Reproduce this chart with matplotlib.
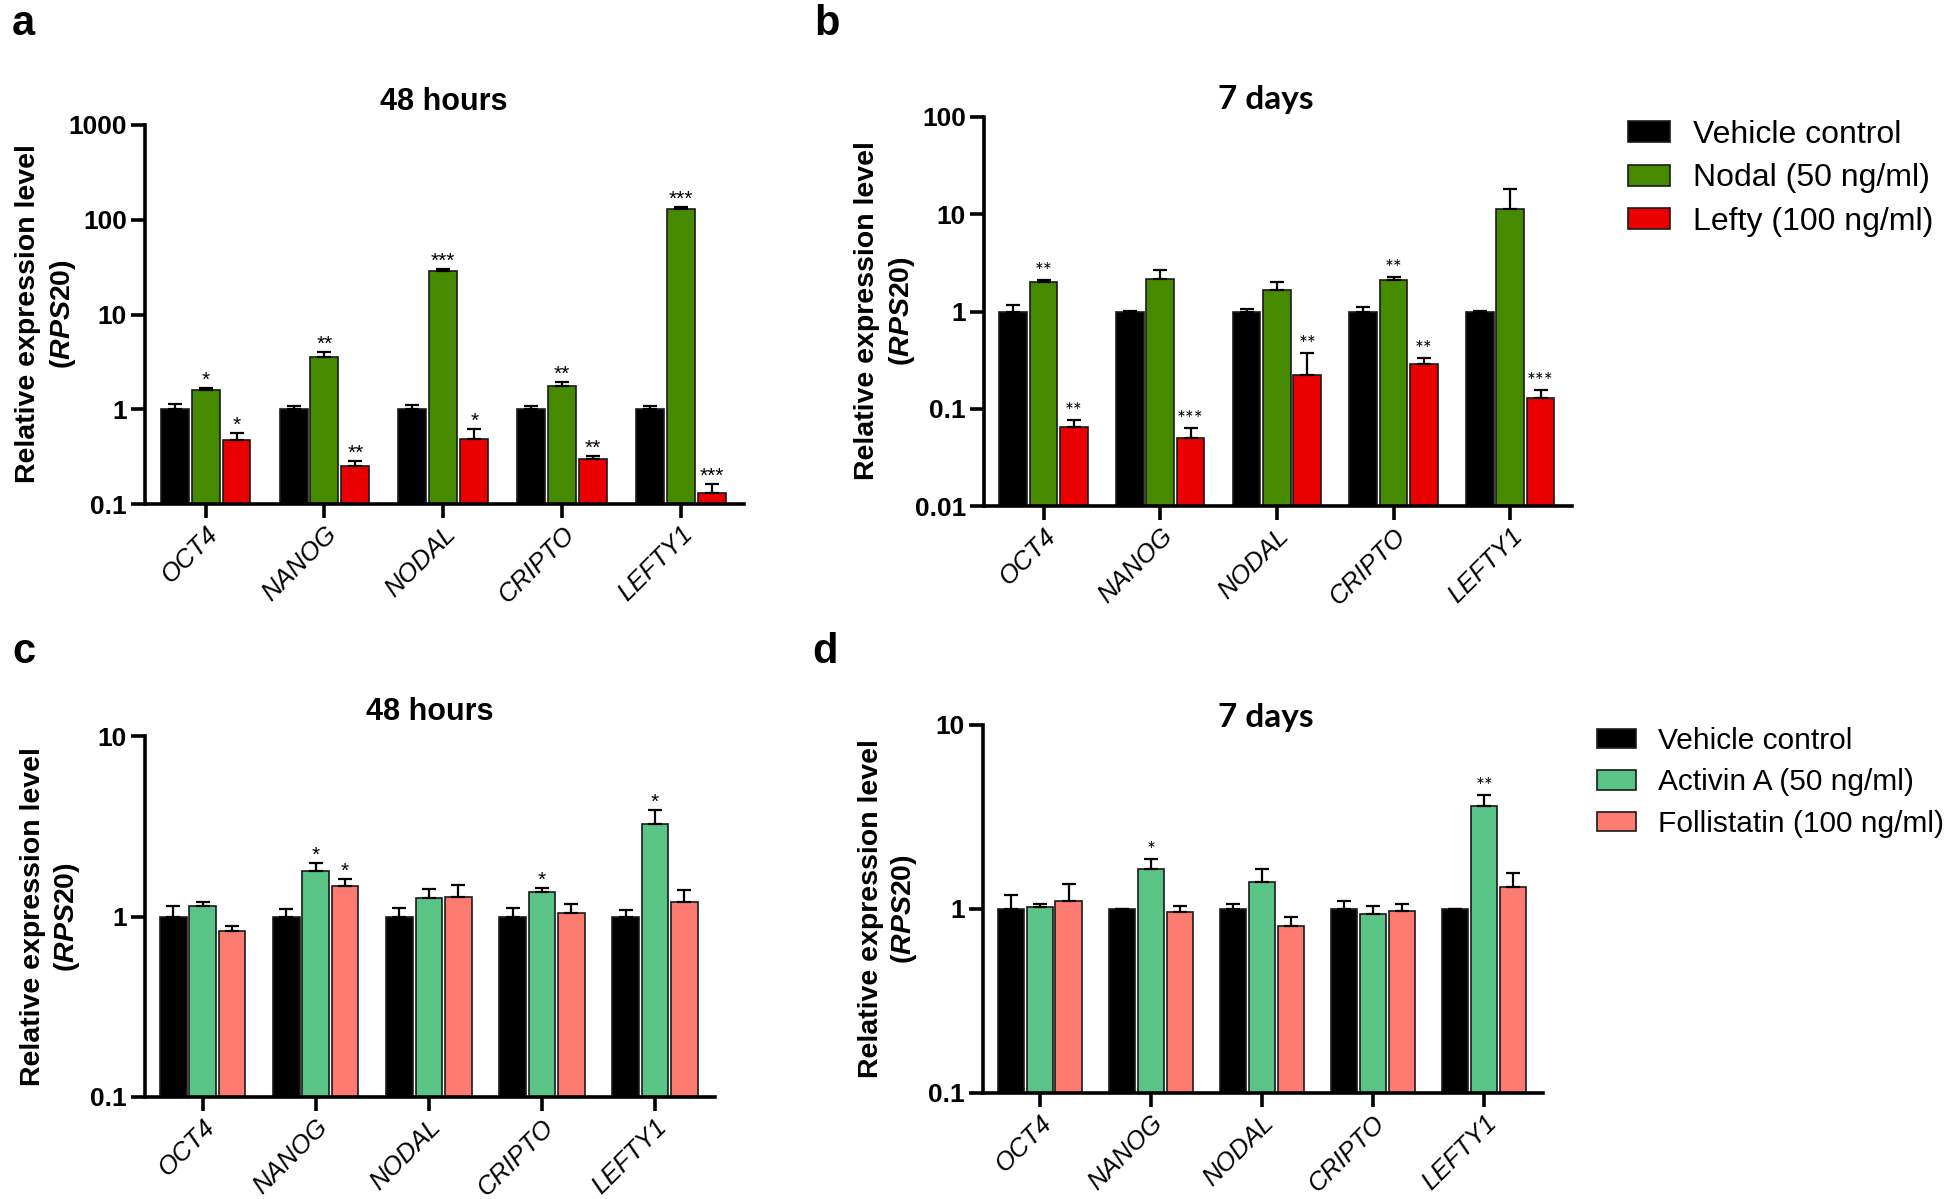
import numpy as np
import matplotlib
matplotlib.use("Agg")
import matplotlib.pyplot as plt
from matplotlib.patches import Patch

plt.rcParams['font.family'] = ['Liberation Sans', 'DejaVu Sans']
plt.rcParams['mathtext.fontset'] = 'custom'
plt.rcParams['mathtext.it'] = 'Liberation Sans:italic:bold'
plt.rcParams['mathtext.rm'] = 'Liberation Sans:bold'

W, H = 1946, 1199

genes = ['OCT4', 'NANOG', 'NODAL', 'CRIPTO', 'LEFTY1']

# a: 48 hours, Nodal / Lefty
a_vehicle = [1.0, 1.0, 1.0, 1.0, 1.0]
a_vehicle_err = [0.13, 0.08, 0.10, 0.09, 0.07]
a_nodal = [1.58, 3.6, 29.0, 1.77, 130.0]
a_nodal_err = [0.09, 0.45, 1.3, 0.17, 5.0]
a_lefty = [0.47, 0.25, 0.48, 0.30, 0.13]
a_lefty_err = [0.095, 0.034, 0.14, 0.018, 0.033]
a_stars_nodal = ['*', '**', '***', '**', '***']
a_stars_lefty = ['*', '**', '*', '**', '***']

# b: 7 days, Nodal / Lefty
b_vehicle = [1.0, 1.0, 1.0, 1.0, 1.0]
b_vehicle_err = [0.18, 0.01, 0.06, 0.10, 0.01]
b_nodal = [2.0, 2.18, 1.68, 2.1, 11.2]
b_nodal_err = [0.1, 0.5, 0.34, 0.17, 7.0]
b_lefty = [0.065, 0.050, 0.221, 0.29, 0.130]
b_lefty_err = [0.012, 0.013, 0.151, 0.04, 0.027]
b_stars_nodal = ['**', '', '', '**', '']
b_stars_lefty = ['**', '***', '**', '**', '***']

# c: 48 hours, Activin A / Follistatin
c_vehicle = [1.0, 1.0, 1.0, 1.0, 1.0]
c_vehicle_err = [0.14, 0.10, 0.11, 0.11, 0.09]
c_activin = [1.14, 1.78, 1.27, 1.37, 3.27]
c_activin_err = [0.06, 0.20, 0.15, 0.07, 0.61]
c_follistatin = [0.83, 1.48, 1.29, 1.04, 1.20]
c_follistatin_err = [0.06, 0.13, 0.20, 0.14, 0.20]
c_stars_activin = ['', '*', '', '*', '*']
c_stars_follistatin = ['', '*', '', '', '']

# d: 7 days, Activin A / Follistatin
d_vehicle = [1.0, 1.0, 1.0, 1.0, 1.0]
d_vehicle_err = [0.19, 0.005, 0.06, 0.11, 0.005]
d_activin = [1.025, 1.64, 1.41, 0.943, 3.61]
d_activin_err = [0.04, 0.22, 0.25, 0.097, 0.54]
d_follistatin = [1.10, 0.96, 0.81, 0.975, 1.31]
d_follistatin_err = [0.26, 0.08, 0.10, 0.095, 0.26]
d_stars_activin = ['', '*', '', '', '**']
d_stars_follistatin = ['', '', '', '', '']

green1, red1 = '#468a00', '#ea0000'
green2, red2 = '#5ac386', '#fe7b72'

fig = plt.figure(figsize=(W / 100, H / 100), dpi=100)


def make_axes(x0, x1, ytop, ybot):
    return fig.add_axes([x0 / W, 1 - ybot / H, (x1 - x0) / W, (ybot - ytop) / H])


def draw_panel(ax, series, errs, stars, colors, ylim, yticks, ylabels, star_font):
    x = np.arange(len(genes))
    offs = [-0.26, 0, 0.26]
    for k in range(3):
        vals = np.array(series[k])
        ax.bar(x + offs[k], vals, width=0.235, color=colors[k],
               edgecolor='#1a1a1a', linewidth=1.2, zorder=2)
        ax.errorbar(x + offs[k], vals, yerr=[np.zeros(5), errs[k]], fmt='none',
                    ecolor='black', elinewidth=1.6, capsize=5, capthick=1.6, zorder=3)
        if stars[k] is not None:
            for i, s in enumerate(stars[k]):
                if s:
                    ax.annotate(s, (x[i] + offs[k], vals[i] + errs[k][i]),
                                xytext=(0, 1.5), textcoords='offset points',
                                ha='center', va='baseline', fontsize=15,
                                family=star_font)
    ax.set_yscale('log')
    ax.set_ylim(*ylim)
    ax.set_xlim(-0.51, 4.53)
    ax.set_yticks(yticks)
    ax.set_yticklabels(ylabels, fontweight='bold', fontsize=19)
    ax.yaxis.set_minor_locator(matplotlib.ticker.NullLocator())
    ax.set_xticks(x)
    ax.set_xticklabels(genes, rotation=45, ha='right', rotation_mode='anchor',
                       fontstyle='italic', fontsize=18.5)
    for sp in ['top', 'right']:
        ax.spines[sp].set_visible(False)
    for sp in ['left', 'bottom']:
        ax.spines[sp].set_linewidth(2.6)
    ax.tick_params(axis='both', which='major', length=10, width=2.6, pad=3)
    ax.tick_params(axis='x', pad=3)


def ylabel(x1, x2, yc):
    fig.text(x1 / W, 1 - yc / H, 'Relative expression level', rotation=90,
             ha='center', va='center', fontsize=20.5, fontweight='bold')
    fig.text(x2 / W, 1 - yc / H, '($\\mathit{RPS20}$)', rotation=90,
             ha='center', va='center', fontsize=20.5, fontweight='bold')


ax_a = make_axes(145, 744, 125, 504)
draw_panel(ax_a, [a_vehicle, a_nodal, a_lefty], [a_vehicle_err, a_nodal_err, a_lefty_err],
           [None, a_stars_nodal, a_stars_lefty], ['black', green1, red1],
           (0.1, 1000), [0.1, 1, 10, 100, 1000], ['0.1', '1', '10', '100', '1000'],
           'Liberation Sans')
ax_b = make_axes(984, 1572, 117, 506)
draw_panel(ax_b, [b_vehicle, b_nodal, b_lefty], [b_vehicle_err, b_nodal_err, b_lefty_err],
           [None, b_stars_nodal, b_stars_lefty], ['black', green1, red1],
           (0.01, 100), [0.01, 0.1, 1, 10, 100], ['0.01', '0.1', '1', '10', '100'],
           'Lato')
ax_c = make_axes(145, 715, 736, 1097)
draw_panel(ax_c, [c_vehicle, c_activin, c_follistatin],
           [c_vehicle_err, c_activin_err, c_follistatin_err],
           [None, c_stars_activin, c_stars_follistatin], ['black', green2, red2],
           (0.1, 10), [0.1, 1, 10], ['0.1', '1', '10'], 'Liberation Sans')
ax_d = make_axes(983, 1543, 725, 1093)
draw_panel(ax_d, [d_vehicle, d_activin, d_follistatin],
           [d_vehicle_err, d_activin_err, d_follistatin_err],
           [None, d_stars_activin, d_stars_follistatin], ['black', green2, red2],
           (0.1, 10), [0.1, 1, 10], ['0.1', '1', '10'], 'Lato')

# titles
fig.text(444 / W, 1 - 102 / H, '48 hours', ha='center', va='center', fontsize=22, fontweight='bold')
fig.text(1266 / W, 1 - 100 / H, '7 days', ha='center', va='center', fontsize=24,
         fontweight='bold', family='Lato')
fig.text(430 / W, 1 - 712 / H, '48 hours', ha='center', va='center', fontsize=22, fontweight='bold')
fig.text(1266 / W, 1 - 718 / H, '7 days', ha='center', va='center', fontsize=24,
         fontweight='bold', family='Lato')

# y labels
ylabel(28, 63, 314)
ylabel(867, 902, 311)
ylabel(33, 67, 917)
ylabel(871, 904, 909)

# panel letters
for lx, ly, t in [(12, 35, 'a'), (814, 35, 'b'), (12, 663, 'c'), (812, 663, 'd')]:
    fig.text(lx / W, 1 - ly / H, t, ha='left', va='baseline', fontsize=30, fontweight='bold')

# legends
h1 = [Patch(facecolor=c, edgecolor='#1a1a1a', linewidth=1.2) for c in ['black', green1, red1]]
fig.legend(h1, ['Vehicle control', 'Nodal (50 ng/ml)', 'Lefty (100 ng/ml)'],
           loc='upper left', bbox_to_anchor=(1628 / W, 1 - 120 / H), frameon=False,
           fontsize=23, borderpad=0, borderaxespad=0, handlelength=1.3, handleheight=0.62,
           handletextpad=0.75, labelspacing=0.42)
h2 = [Patch(facecolor=c, edgecolor='#1a1a1a', linewidth=1.2) for c in ['black', green2, red2]]
fig.legend(h2, ['Vehicle control', 'Activin A (50 ng/ml)', 'Follistatin (100 ng/ml)'],
           loc='upper left', bbox_to_anchor=(1597 / W, 1 - 727 / H), frameon=False,
           fontsize=21.5, borderpad=0, borderaxespad=0, handlelength=1.3, handleheight=0.62,
           handletextpad=0.75, labelspacing=0.45)

fig.savefig('out.png', dpi=100)
